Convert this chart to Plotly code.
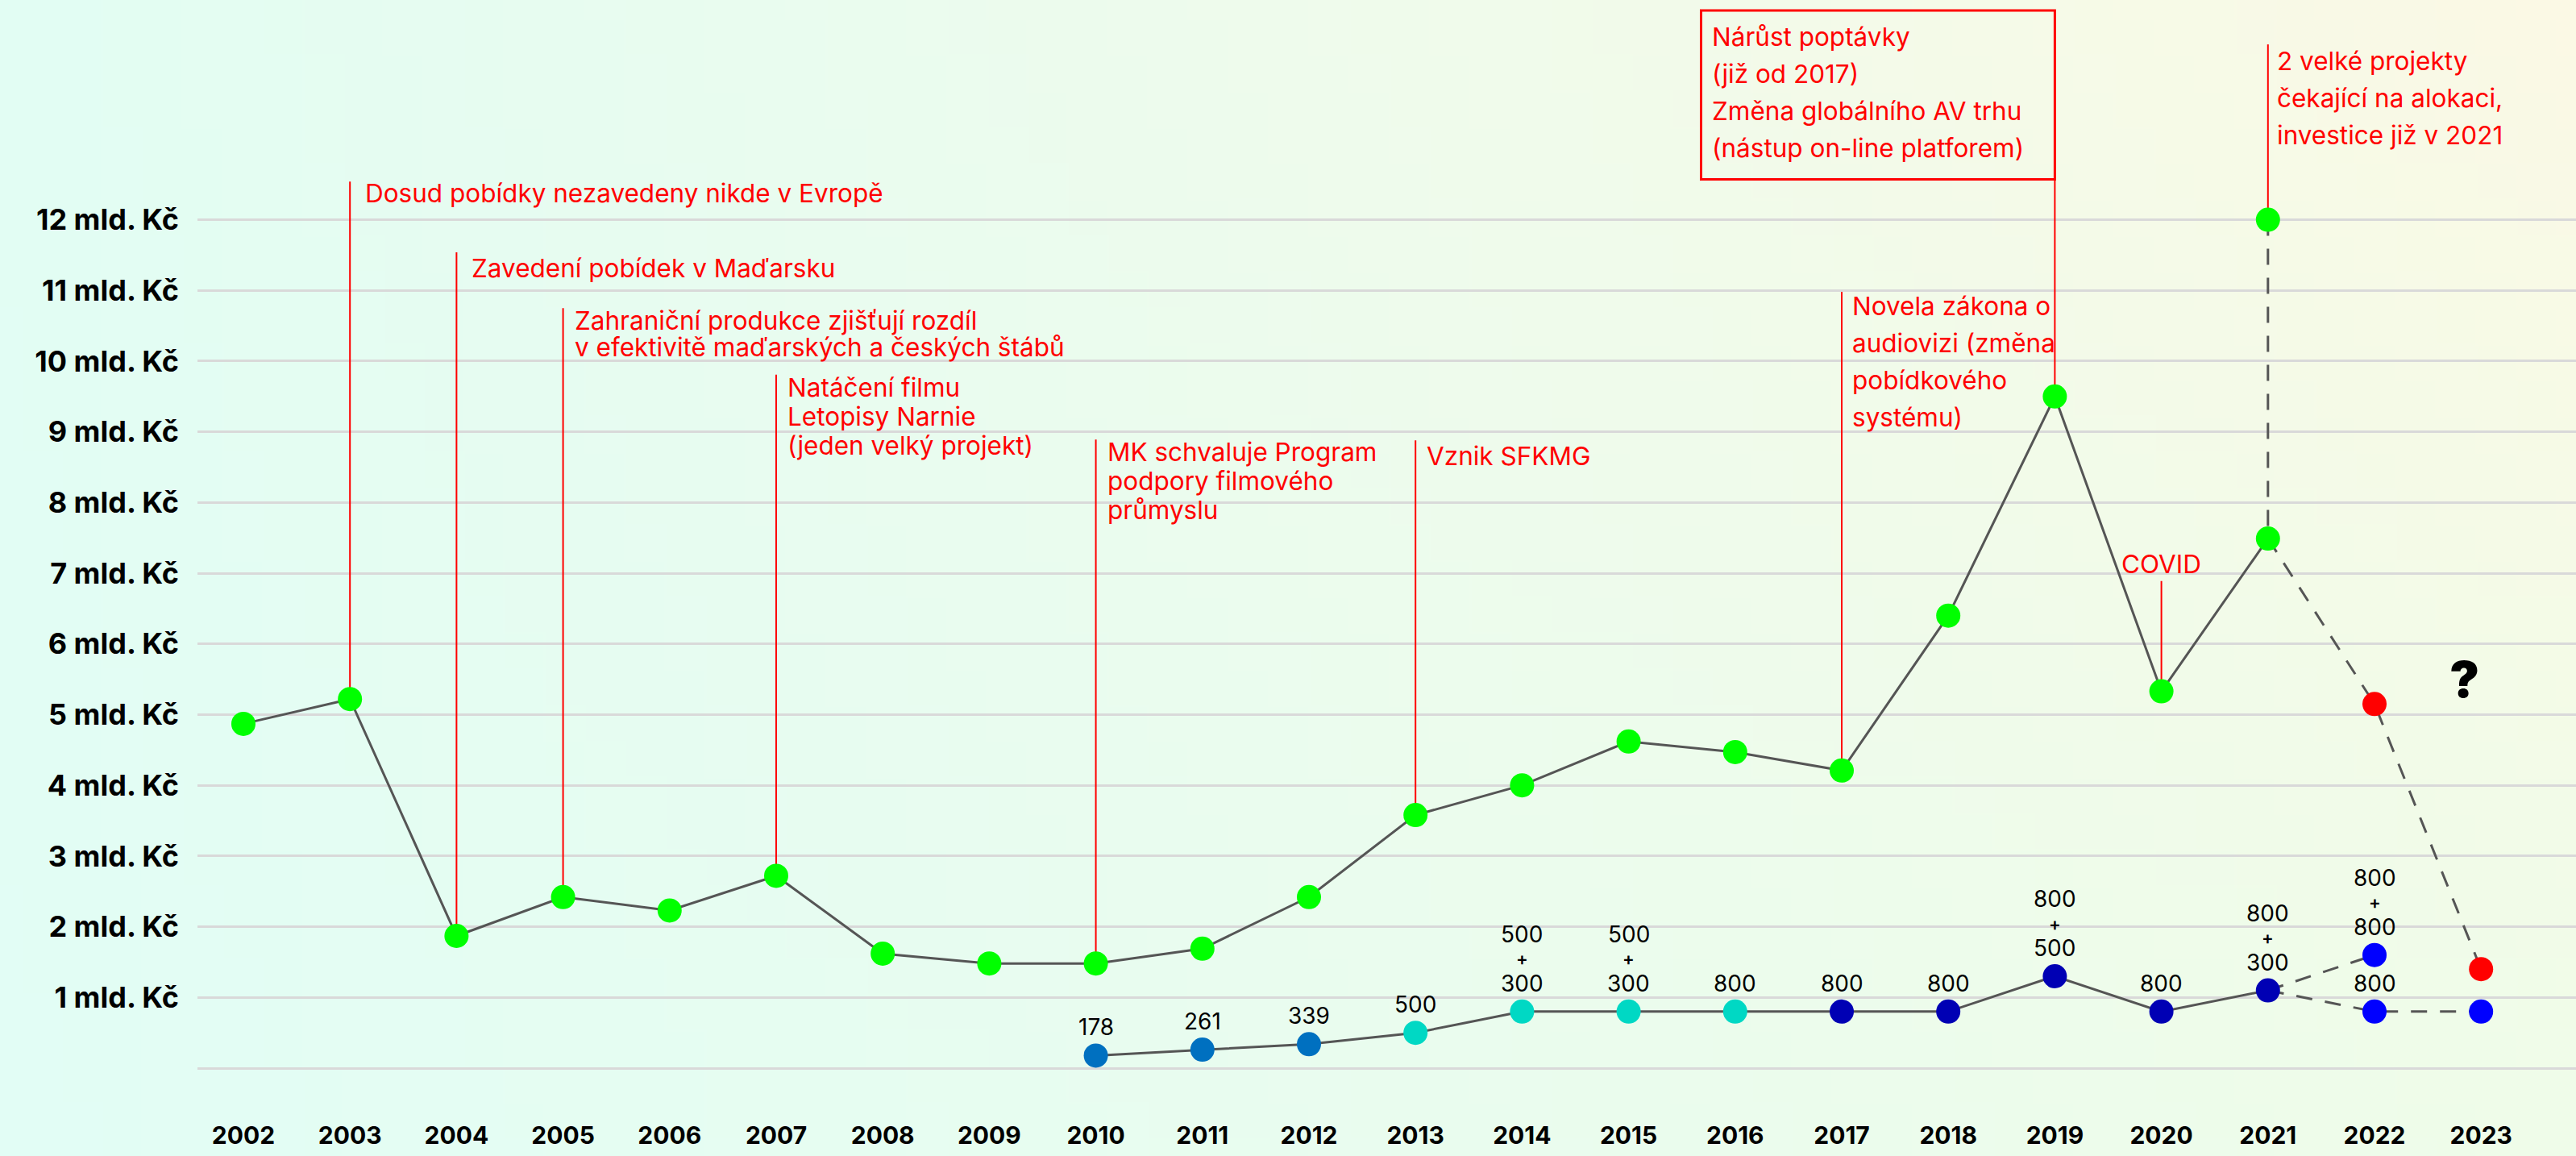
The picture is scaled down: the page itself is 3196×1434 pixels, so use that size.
import zlib
import struct
import base64
import plotly.graph_objects as go

# ---------------- data ----------------
TOTAL_YEARS = list(range(2002, 2022))
TOTAL_VALUES = [4.87, 5.22, 1.87, 2.42, 2.23, 2.72, 1.62, 1.48, 1.48, 1.69,
                2.42, 3.58, 4.00, 4.62, 4.47, 4.21, 6.40, 9.50, 5.33, 7.49]
EXPECTED_YEAR = 2021
EXPECTED_VALUE = 12.0
FORECAST_YEARS = [2021, 2022, 2023]
FORECAST_VALUES = [7.49, 5.15, 1.40]

SUPPORT_YEARS = list(range(2010, 2022))
SUPPORT_VALUES = [0.178, 0.261, 0.339, 0.5, 0.8, 0.8, 0.8, 0.8, 0.8, 1.3, 0.8, 1.1]
SUPPORT_LABELS = ["178", "261", "339", "500", "500\n+\n300", "500\n+\n300",
                  "800", "800", "800", "800\n+\n500", "800", "800\n+\n300"]
PLAN_HIGH_YEARS = [2021, 2022]
PLAN_HIGH_VALUES = [1.1, 1.6]
PLAN_HIGH_LABELS = [None, "800\n+\n800"]
PLAN_LOW_YEARS = [2021, 2022, 2023]
PLAN_LOW_VALUES = [1.1, 0.8, 0.8]
PLAN_LOW_LABELS = [None, "800", None]

X_TICKS = list(range(2002, 2024))
X_LABELS = [str(y) for y in X_TICKS]
Y_TICKS = list(range(0, 13))
Y_LABELS = [""] + [f"{v} mld. Kč" for v in range(1, 13)]

EVENT_YEARS = [2003, 2004, 2005, 2007, 2010, 2013, 2017, 2019, 2021]
EVENT_TEXTS = [
    ["Dosud pobídky nezavedeny nikde v Evropě"],
    ["Zavedení pobídek v Maďarsku"],
    ["Zahraniční produkce zjišťují rozdíl", "v efektivitě maďarských a českých štábů"],
    ["Natáčení filmu", "Letopisy Narnie", "(jeden velký projekt)"],
    ["MK schvaluje Program", "podpory filmového", "průmyslu"],
    ["Vznik SFKMG"],
    ["Novela zákona o", "audiovizi (změna", "pobídkového", "systému)"],
    ["Nárůst poptávky", "(již od 2017)", "Změna globálního AV trhu", "(nástup on-line platforem)"],
    ["2 velké projekty", "čekající na alokaci,", "investice již v 2021"],
]
COVID_YEAR = 2020
COVID_TEXT = "COVID"
QUESTION_TEXT = "?"

# ---------------- style / layout ----------------
W, H = 3196, 1434
ML, MB = 245, 54
X_RANGE = [2001.569, 2023.891]
Y_RANGE = [-0.627, 15.108]
GREY = "#555555"
RED = "#FF0000"
GREEN = "#00FF00"
MS = 30
FONT = "Inter"

# per-event placement: line top (data), first-line offset px, line gap px, text x-shift px
EVENT_STYLE = [
    dict(top=12.54, off=14, gap=36, dx=17),
    dict(top=11.54, off=20, gap=36, dx=17),
    dict(top=10.75, off=15, gap=33, dx=12),
    dict(top=9.81, off=16, gap=36, dx=12),
    dict(top=8.89, off=15, gap=36, dx=12),
    dict(top=8.88, off=19, gap=36, dx=12),
    dict(top=10.98, off=17, gap=46, dx=11),
    dict(top=12.57, off=0, gap=46, dx=12, box=(2015.68, 12.57, 14.96), box_off=33),
    dict(top=14.48, off=20, gap=46, dx=9),
]


def support_color(year):
    if year <= 2012:
        return "#0070C0"
    if year <= 2016:
        return "#00D8C4"
    return "#0000B4"


def value_at(year):
    if year == EXPECTED_YEAR:
        return EXPECTED_VALUE
    return TOTAL_VALUES[TOTAL_YEARS.index(year)]


# ---------------- background gradient ----------------
def make_png(w, h, corners):
    tl, tr, bl, br = corners
    rows = []
    for j in range(h):
        v = j / (h - 1)
        row = bytearray([0])
        for i in range(w):
            u = i / (w - 1)
            for c in range(3):
                top = tl[c] * (1 - u) + tr[c] * u
                bot = bl[c] * (1 - u) + br[c] * u
                row.append(int(round(top * (1 - v) + bot * v)))
        rows.append(bytes(row))
    raw = b"".join(rows)

    def chunk(tag, data):
        return (struct.pack(">I", len(data)) + tag + data +
                struct.pack(">I", zlib.crc32(tag + data) & 0xFFFFFFFF))

    png = (b"\x89PNG\r\n\x1a\n" +
           chunk(b"IHDR", struct.pack(">IIBBBBB", w, h, 8, 2, 0, 0, 0)) +
           chunk(b"IDAT", zlib.compress(raw, 9)) + chunk(b"IEND", b""))
    return "data:image/png;base64," + base64.b64encode(png).decode()


bg = make_png(64, 32, [(226, 253, 243), (251, 249, 229), (226, 253, 245), (239, 252, 233)])

fig = go.Figure()

# ---- lines ----
fig.add_trace(go.Scatter(x=TOTAL_YEARS, y=TOTAL_VALUES, mode="lines",
                         line=dict(color=GREY, width=3), hoverinfo="skip"))
fig.add_trace(go.Scatter(x=SUPPORT_YEARS, y=SUPPORT_VALUES, mode="lines",
                         line=dict(color=GREY, width=3), hoverinfo="skip"))
dash = "20px,16px"
fig.add_trace(go.Scatter(x=[EXPECTED_YEAR, EXPECTED_YEAR], y=[EXPECTED_VALUE, TOTAL_VALUES[-1]],
                         mode="lines", line=dict(color=GREY, width=3, dash=dash), hoverinfo="skip"))
fig.add_trace(go.Scatter(x=FORECAST_YEARS, y=FORECAST_VALUES, mode="lines",
                         line=dict(color=GREY, width=3, dash=dash), hoverinfo="skip"))
fig.add_trace(go.Scatter(x=PLAN_HIGH_YEARS, y=PLAN_HIGH_VALUES, mode="lines",
                         line=dict(color=GREY, width=3, dash=dash), hoverinfo="skip"))
fig.add_trace(go.Scatter(x=PLAN_LOW_YEARS, y=PLAN_LOW_VALUES, mode="lines",
                         line=dict(color=GREY, width=3, dash=dash), hoverinfo="skip"))

# ---- markers ----
fig.add_trace(go.Scatter(x=TOTAL_YEARS, y=TOTAL_VALUES, mode="markers",
                         marker=dict(color=GREEN, size=MS)))
fig.add_trace(go.Scatter(x=[EXPECTED_YEAR], y=[EXPECTED_VALUE], mode="markers",
                         marker=dict(color=GREEN, size=MS)))
fig.add_trace(go.Scatter(x=FORECAST_YEARS[1:], y=FORECAST_VALUES[1:], mode="markers",
                         marker=dict(color=RED, size=MS)))
fig.add_trace(go.Scatter(x=SUPPORT_YEARS, y=SUPPORT_VALUES, mode="markers",
                         marker=dict(color=[support_color(y) for y in SUPPORT_YEARS], size=MS)))
fig.add_trace(go.Scatter(x=PLAN_HIGH_YEARS[1:], y=PLAN_HIGH_VALUES[1:], mode="markers",
                         marker=dict(color="#0000FF", size=MS)))
fig.add_trace(go.Scatter(x=PLAN_LOW_YEARS[1:], y=PLAN_LOW_VALUES[1:], mode="markers",
                         marker=dict(color="#0000FF", size=MS)))


# ---- value labels (lower series) ----
def stacked_label(x, y, label):
    if not label:
        return
    lines = label.split("\n")
    for k, t in enumerate(reversed(lines)):
        plus = t == "+"
        fig.add_annotation(x=x, y=y, text=t, showarrow=False, xanchor="center",
                           yanchor="middle", yshift=35 + 30.5 * k, borderpad=0,
                           font=dict(family=FONT, size=22 if plus else 28,
                                     weight=600 if plus else 400, color="#000000"))


for x, y, l in zip(SUPPORT_YEARS, SUPPORT_VALUES, SUPPORT_LABELS):
    stacked_label(x, y, l)
for x, y, l in zip(PLAN_HIGH_YEARS, PLAN_HIGH_VALUES, PLAN_HIGH_LABELS):
    stacked_label(x, y, l)
for x, y, l in zip(PLAN_LOW_YEARS, PLAN_LOW_VALUES, PLAN_LOW_LABELS):
    stacked_label(x, y, l)

# ---- events ----
red_font = dict(family=FONT, size=31.5, color=RED)
for year, lines, st in zip(EVENT_YEARS, EVENT_TEXTS, EVENT_STYLE):
    fig.add_shape(type="line", x0=year, x1=year, y0=st["top"], y1=value_at(year),
                  line=dict(color=RED, width=2), layer="between")
    if "box" in st:
        bx0, by0, by1 = st["box"]
        fig.add_shape(type="rect", x0=bx0, x1=year, y0=by0, y1=by1,
                      line=dict(color=RED, width=3), layer="between")
        tx, ty, off = bx0, by1, st["box_off"]
    else:
        tx, ty, off = year, st["top"], st["off"]
    for i, t in enumerate(lines):
        fig.add_annotation(x=tx, y=ty, text=t, showarrow=False, xanchor="left",
                           yanchor="middle", xshift=st["dx"], yshift=-(off + i * st["gap"]),
                           font=red_font)

# COVID
fig.add_shape(type="line", x0=COVID_YEAR, x1=COVID_YEAR, y0=6.89, y1=value_at(COVID_YEAR),
              line=dict(color=RED, width=2), layer="between")
fig.add_annotation(x=COVID_YEAR, y=7.13, text=COVID_TEXT, showarrow=False,
                   xanchor="center", yanchor="middle", font=red_font)

# question mark
fig.add_annotation(x=2022.84, y=5.5, text=QUESTION_TEXT, showarrow=False,
                   xanchor="center", yanchor="middle",
                   font=dict(family=FONT, size=62, color="#000000", weight=900))

fig.add_layout_image(dict(source=bg, xref="paper", yref="paper",
                          x=-ML / (W - ML), y=1, sizex=W / (W - ML), sizey=H / (H - MB),
                          xanchor="left", yanchor="top", sizing="stretch", layer="below"))

fig.update_layout(
    width=W, height=H,
    margin=dict(l=ML, r=0, t=0, b=MB),
    paper_bgcolor="#E4FCF1",
    plot_bgcolor="rgba(0,0,0,0)",
    showlegend=False,
    xaxis=dict(range=X_RANGE, tickvals=X_TICKS, ticktext=X_LABELS, showgrid=False,
               zeroline=False, showline=False, ticks="", ticklabelstandoff=8,
               tickfont=dict(family=FONT, size=30, color="#000000", weight=700)),
    yaxis=dict(range=Y_RANGE, tickvals=Y_TICKS, ticktext=Y_LABELS, showgrid=True,
               gridcolor="#D9D9D9", gridwidth=3, zeroline=False, showline=False,
               ticks="", ticklabelstandoff=22,
               tickfont=dict(family=FONT, size=36, color="#000000", weight=700)),
)

fig.write_html("out.html", config={"displayModeBar": False},
               post_script="document.body.style.margin='0';document.body.style.overflow='hidden';")
